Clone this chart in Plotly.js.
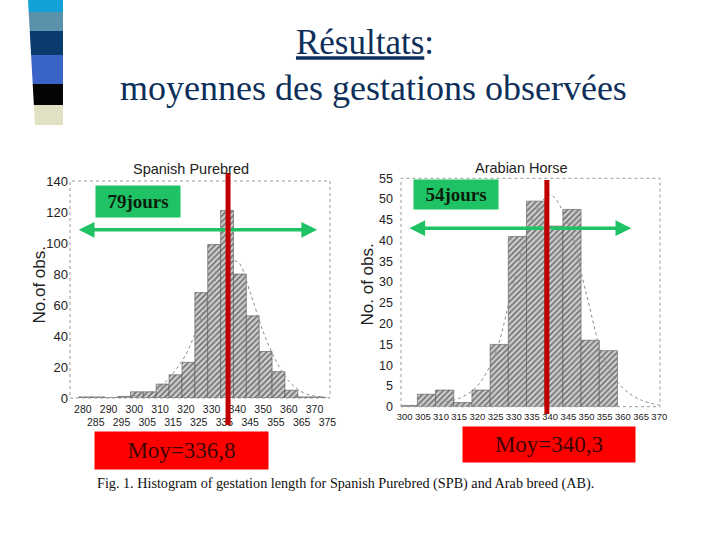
<!DOCTYPE html>
<html><head><meta charset="utf-8">
<script src="https://cdn.plot.ly/plotly-3.0.1.min.js"></script>
<style>html,body{margin:0;padding:0;background:#fff}#chart{width:720px;height:540px}</style>
</head><body><div id="chart"></div>
<script>
// ---- data ----
const spanishBins   = [281,286,291,296,301,306,311,316,321,326,331,336,341,346,351,356,361,366,371];
const spanishCounts = [0.7,0.7,0,1,4,4,9,15,23,68,99,121,80,53,30,17,5,0.7,0.7];
const arabianBins   = [301,306,311,316,321,326,331,336,341,346,351,356];
const arabianCounts = [0.3,3,4,1,4,15,41,49.5,43.5,47.5,16,13.5];

const spanishCurveX = [290,295,300,305,310,315,320,325,330,335,340,345,350,355,360,365,370,375];
const spanishCurveY = [0.2,0.6,1.5,3,7,16,28,48,70,86,88,68,43,24,11,4,1.2,0.4];
const arabianCurveX = [300,305,310,315,320,325,330,335,340,345,350,355,360,365,370];
const arabianCurveY = [0.2,0.5,1,2,5,13,30,45,51,44,27,11,4.5,1.6,0.4];

const spanishXTicks = [280,285,290,295,300,305,310,315,320,325,330,335,340,345,350,355,360,365,370,375];
const spanishYTicks = [0,20,40,60,80,100,120,140];
const arabianXTicks = [300,305,310,315,320,325,330,335,340,345,350,355,360,365,370];
const arabianYTicks = [0,5,10,15,20,25,30,35,40,45,50,55];

const panelTitles = ['Spanish Purebred','Arabian Horse'];
const yTitles = ['No.of obs.','No. of obs.'];
const meanLabels = ['Moy=336,8','Moy=340,3'];
const meanLineX = [336.4, 339.1];
const spreadLabels = ['79jours','54jours'];
const spreadArrow = {spanish:[278.4,371,108.5], arabian:[301.3,362.3,43]};
const caption = 'Fig. 1. Histogram of gestation length for Spanish Purebred (SPB) and Arab breed (AB).';

// ---- helpers ----
const W=720,H=540;
const px=x=>x/W, py=y=>1-y/H;
const SANS='Liberation Sans, Arial, sans-serif';
const SERIF='Liberation Serif, Times New Roman, serif';
const GREEN='#1fc264', RED='#ff0000', DARKRED='#c00000';

const barStyle = {
  color:'#d4d4d4',
  line:{color:'#555',width:0.6},
  pattern:{shape:'/',fgcolor:'#222',size:4,solidity:0.5,fillmode:'overlay'}
};

const traces = [
  {type:'bar',x:spanishBins,y:spanishCounts,width:5,marker:barStyle,xaxis:'x',yaxis:'y',hoverinfo:'x+y',showlegend:false},
  {type:'scatter',mode:'lines',x:spanishCurveX,y:spanishCurveY,line:{color:'#8a8a8a',width:1,dash:'dot',shape:'spline'},xaxis:'x',yaxis:'y',showlegend:false},
  {type:'bar',x:arabianBins,y:arabianCounts,width:5,marker:barStyle,xaxis:'x2',yaxis:'y2',hoverinfo:'x+y',showlegend:false},
  {type:'scatter',mode:'lines',x:arabianCurveX,y:arabianCurveY,line:{color:'#8a8a8a',width:1,dash:'dot',shape:'spline'},xaxis:'x2',yaxis:'y2',showlegend:false}
];

const tickFont = {family:SANS,size:10.5,color:'#222'};

// decoration strip on the left
const strip = [[0,12,'#13a2d6'],[12,31,'#5b91aa'],[31,55,'#0b3a6c'],[55,84,'#3b64c9'],[84,105,'#050505'],[105,125,'#e0e0c2']];
const shapes = strip.map(([y0,y1,c])=>{
  const l0=28+7*y0/125, l1=28+7*y1/125;
  return {type:'path',xref:'paper',yref:'paper',
    path:`M ${px(l0)},${py(y0)} L ${px(63)},${py(y0)} L ${px(63)},${py(y1)} L ${px(l1)},${py(y1)} Z`,
    fillcolor:c,line:{width:0}};
});
// dotted frames
shapes.push({type:'rect',xref:'x domain',yref:'y domain',x0:0,x1:1,y0:0,y1:1,line:{color:'#9a9a9a',width:1,dash:'dot'}});
shapes.push({type:'rect',xref:'x2 domain',yref:'y2 domain',x0:0,x1:1,y0:0,y1:1,line:{color:'#9a9a9a',width:1,dash:'dot'}});
// red mean lines
shapes.push({type:'line',xref:'x',yref:'paper',x0:meanLineX[0],x1:meanLineX[0],y0:py(425),y1:py(173),line:{color:DARKRED,width:5},layer:'above'});
shapes.push({type:'line',xref:'x2',yref:'paper',x0:meanLineX[1],x1:meanLineX[1],y0:py(414),y1:py(180),line:{color:DARKRED,width:5},layer:'above'});

function arrowPair(xref,yref,a,b,yv,mid){
  const base={xref,yref,axref:xref,ayref:yref,text:'',showarrow:true,arrowhead:2,arrowsize:0.9,arrowwidth:3.5,arrowcolor:GREEN,standoff:0,arrowside:'end'};
  return [Object.assign({},base,{x:a,y:yv,ax:mid-0.6,ay:yv}),Object.assign({},base,{x:b,y:yv,ax:mid+0.6,ay:yv})];
}

const annotations = [
  {text:'moyennes des gestations observées',xref:'paper',yref:'paper',x:px(373),y:py(88),xanchor:'center',yanchor:'middle',showarrow:false,font:{family:SERIF,size:36,color:'#0d2f5a'}},
  {text:panelTitles[0],xref:'paper',yref:'paper',x:px(191),y:py(169),xanchor:'center',yanchor:'middle',showarrow:false,font:{family:SANS,size:14.5,color:'#222'}},
  {text:panelTitles[1],xref:'paper',yref:'paper',x:px(521),y:py(168),xanchor:'center',yanchor:'middle',showarrow:false,font:{family:SANS,size:14.5,color:'#222'}},
  {text:yTitles[0],xref:'paper',yref:'paper',x:px(38.5),y:py(285),xanchor:'center',yanchor:'middle',textangle:-90,showarrow:false,font:{family:SANS,size:17,color:'#222'}},
  {text:yTitles[1],xref:'paper',yref:'paper',x:px(366.5),y:py(285),xanchor:'center',yanchor:'middle',textangle:-90,showarrow:false,font:{family:SANS,size:17,color:'#222'}},
  ...arrowPair('x','y',spreadArrow.spanish[0],spreadArrow.spanish[1],spreadArrow.spanish[2],meanLineX[0]),
  ...arrowPair('x2','y2',spreadArrow.arabian[0],spreadArrow.arabian[1],spreadArrow.arabian[2],meanLineX[1]),
  {text:'<b>'+spreadLabels[0]+'</b>',xref:'paper',yref:'paper',x:px(138),y:py(201.5),xanchor:'center',yanchor:'middle',width:84,height:31,borderpad:0,bgcolor:GREEN,showarrow:false,font:{family:SERIF,size:19,color:'#0c1f0c'}},
  {text:'<b>'+spreadLabels[1]+'</b>',xref:'paper',yref:'paper',x:px(456),y:py(194.5),xanchor:'center',yanchor:'middle',width:84,height:29,borderpad:0,bgcolor:GREEN,showarrow:false,font:{family:SERIF,size:19,color:'#0c1f0c'}},
  {text:meanLabels[0],xref:'paper',yref:'paper',x:px(181.5),y:py(450.5),xanchor:'center',yanchor:'middle',width:173,height:37,borderpad:0,bgcolor:RED,showarrow:false,font:{family:SERIF,size:23,color:'#3d0505'}},
  {text:meanLabels[1],xref:'paper',yref:'paper',x:px(549),y:py(444.5),xanchor:'center',yanchor:'middle',width:172,height:35,borderpad:0,bgcolor:RED,showarrow:false,font:{family:SERIF,size:23,color:'#3d0505'}},
  {text:caption,xref:'paper',yref:'paper',x:px(345),y:py(483),xanchor:'center',yanchor:'middle',showarrow:false,font:{family:SERIF,size:14.2,color:'#111'}}
];

const layout = {
  width:W,height:H,margin:{l:0,r:0,t:0,b:0},
  paper_bgcolor:'#fff',plot_bgcolor:'#fff',
  showlegend:false,bargap:0,
  font:{family:SANS,color:'#222'},
  title:{text:'<u>Résultats</u>:',x:px(365),xanchor:'center',y:py(42),yanchor:'middle',xref:'paper',yref:'paper',font:{family:SERIF,size:35,color:'#0d2f5a'}},
  xaxis:{domain:[px(70),px(330)],range:[275,376],tickmode:'array',tickvals:spanishXTicks,
    ticktext:spanishXTicks.map(v=>v%10===0?String(v):'<br>'+v),tickangle:0,ticks:'',showgrid:false,zeroline:false,showline:false,
    tickfont:tickFont,ticklabelstandoff:3,anchor:'y'},
  yaxis:{domain:[py(398),py(181)],range:[0,140],tickmode:'array',tickvals:spanishYTicks,ticks:'',showgrid:false,zeroline:false,showline:false,
    tickfont:{family:SANS,size:13,color:'#222'},ticklabelstandoff:1,anchor:'x'},
  xaxis2:{domain:[px(401),px(660)],range:[299,370.2],tickmode:'array',tickvals:arabianXTicks,tickangle:0,ticks:'',showgrid:false,zeroline:false,showline:false,
    tickfont:{family:SANS,size:9.5,color:'#222'},ticklabelstandoff:3,anchor:'y2'},
  yaxis2:{domain:[py(406.7),py(178.3)],range:[0,55],tickmode:'array',tickvals:arabianYTicks,ticks:'',showgrid:false,zeroline:false,showline:false,
    tickfont:{family:SANS,size:12.5,color:'#222'},ticklabelstandoff:7,anchor:'x2'},
  shapes,annotations
};

Plotly.newPlot('chart',traces,layout,{staticPlot:true,displayModeBar:false});
</script></body></html>
